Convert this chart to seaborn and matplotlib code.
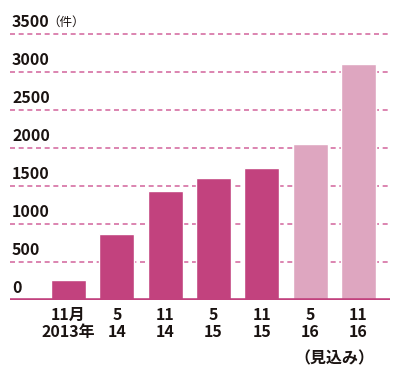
import matplotlib
matplotlib.use("Agg")
import matplotlib.pyplot as plt
import seaborn as sns
import pandas as pd

# データ
labels_top = ['11月', '5', '11', '5', '11', '5', '11']
labels_bottom = ['2013年', '14', '14', '15', '15', '16', '16']
values = [260, 870, 1430, 1600, 1730, 2050, 3100]
status = ['実績', '実績', '実績', '実績', '実績', '見込み', '見込み']
y_ticks = [0, 500, 1000, 1500, 2000, 2500, 3000, 3500]

sns.set_theme(style="white")
plt.rcParams['font.family'] = ['Noto Sans CJK JP', 'DejaVu Sans']

colores = {'実績': '#C2427E', '見込み': '#DEA6C0'}

df = pd.DataFrame({
    'label': [f"{a}\n{b}" for a, b in zip(labels_top, labels_bottom)],
    'value': values,
    'status': status,
})

fig = plt.figure(figsize=(4, 3.75), dpi=100)
ax = fig.add_axes([0.025, 0.2, 0.95, 0.75])

sns.barplot(data=df, x='label', y='value', hue='status', palette=colores,
            width=0.72, dodge=False, legend=False, saturation=1,
            ax=ax, zorder=3)

# 点線のグリッド
for v in y_ticks[1:]:
    ax.axhline(v, color='#D66FA3', lw=1.2, ls=(0, (3, 2.2)), zorder=1)
ax.axhline(0, color='#C2427E', lw=2.6, zorder=4)

ax.set_xlim(-1.21, 6.65)
ax.set_ylim(0, 3700)
ax.set_yticks([])
ax.set_xlabel('')
ax.set_ylabel('')
for s in ax.spines.values():
    s.set_visible(False)

ax.tick_params(axis='x', length=0, pad=5)
ax.set_xticks(range(len(df)))
ax.set_xticklabels(df['label'], fontsize=11.5, fontweight='bold',
                   color='#1A1311', linespacing=1.05)

# 目盛りラベル
for v in y_ticks:
    ax.annotate(str(v), xy=(0, v), xycoords=('axes fraction', 'data'),
                xytext=(1.5, 3), textcoords='offset points',
                ha='left', va='bottom', fontsize=11.5, fontweight='bold',
                color='#1A1311')
ax.annotate('（件）', xy=(0, 3500), xycoords=('axes fraction', 'data'),
            xytext=(27, 3.5), textcoords='offset points',
            ha='left', va='bottom', fontsize=9, color='#1A1311')

ax.annotate('（見込み）', xy=(5.5, 0), xycoords=('data', 'axes fraction'),
            xytext=(0, -42), textcoords='offset points',
            ha='center', va='center', fontsize=11.5, fontweight='bold',
            color='#1A1311')

fig.savefig('out.png', dpi=100)
